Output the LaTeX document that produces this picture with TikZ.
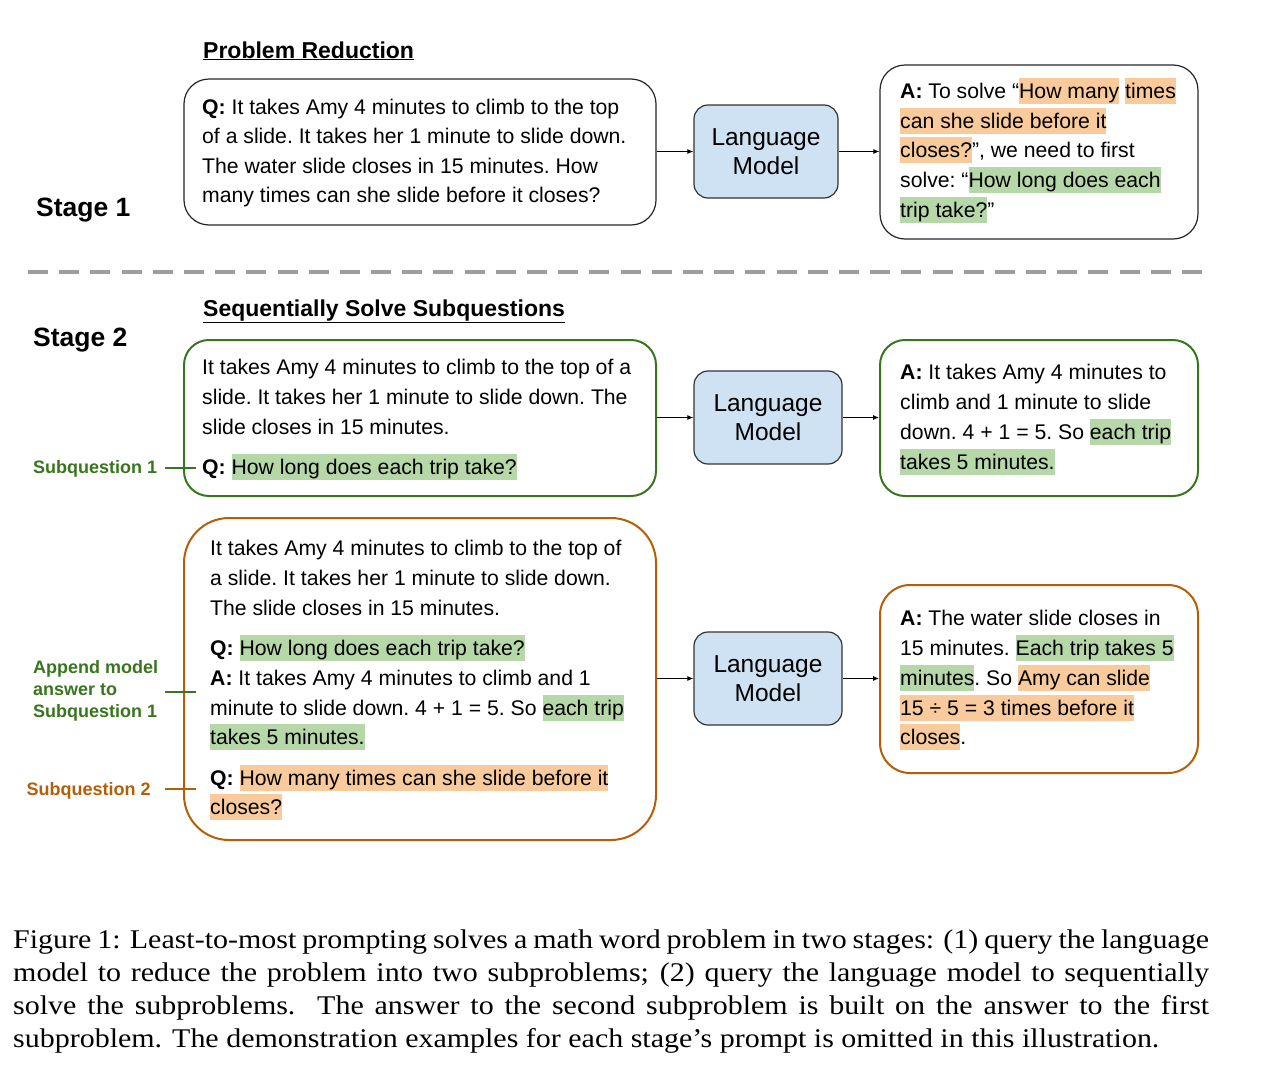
\documentclass[tikz,border=0pt]{standalone}
\usepackage{fontspec}
\setmainfont{Liberation Sans}
\newfontfamily\capfont[FakeStretch=1.11]{Liberation Serif}
\usetikzlibrary{arrows.meta}
\definecolor{hlg}{HTML}{B6D7A8}
\definecolor{hlo}{HTML}{F9CB9C}
\definecolor{grn}{HTML}{38761D}
\definecolor{org}{HTML}{B45F06}
\definecolor{lmblue}{HTML}{CFE2F3}
\definecolor{dashgray}{HTML}{9E9E9E}
\newcommand\hg[1]{{\setlength\fboxsep{0pt}\colorbox{hlg}{\rule[-5pt]{0pt}{26pt}#1}}}
\newcommand\ho[1]{{\setlength\fboxsep{0pt}\colorbox{hlo}{\rule[-5pt]{0pt}{26pt}#1}}}
\tikzset{
  txt/.style={anchor=base west, inner sep=0pt, font=\frenchspacing\fontsize{21.2}{26}\selectfont},
  head/.style={anchor=base west, inner sep=0pt, font=\bfseries\fontsize{23}{28}\selectfont},
  stagelbl/.style={anchor=base west, inner sep=0pt, font=\bfseries\fontsize{26.5}{30}\selectfont},
  sidelbl/.style={anchor=base west, inner sep=0pt, font=\bfseries\fontsize{18}{22}\selectfont},
  bbox/.style={draw=black!85, line width=1.2pt, rounded corners=25pt, inner sep=0pt},
  gbox/.style={draw=grn, line width=2pt, rounded corners=25pt, inner sep=0pt},
  obox/.style={draw=org, line width=2pt, rounded corners=30pt, inner sep=0pt},
  lm/.style={draw=black!80, fill=lmblue, rounded corners=14pt, line width=1.2pt, align=center,
    inner sep=0pt, font=\fontsize{24.5}{29.5}\selectfont},
  arr/.style={-{Latex[length=6pt,width=5pt]}, line width=1pt},
  tick/.style={line width=2pt},
}
\begin{document}
\begin{tikzpicture}[x=1pt,y=-1pt]
\useasboundingbox (0,0) rectangle (1262,1074);

% ---------------- Stage 1 ----------------
\node[stagelbl] (st1) at (36,216.5) {Stage 1};
\node[head] (h1) at (203,58) {\underline{Problem Reduction}};

\node[bbox, minimum width=472pt, minimum height=146pt] (b1) at (420,152) {};
\node[txt] (b1l1) at (202,114) {\textbf{Q:} It takes Amy 4 minutes to climb to the top};
\node[txt] (b1l2) at (202,143.5) {of a slide. It takes her 1 minute to slide down.};
\node[txt] (b1l3) at (202,173) {The water slide closes in 15 minutes. How};
\node[txt] (b1l4) at (202,202.5) {many times can she slide before it closes?};

\node[lm, minimum width=144pt, minimum height=93pt] (lm1) at (766,151.5) {Language\\Model};

\node[bbox, minimum width=318pt, minimum height=174pt] (a1) at (1039,152) {};
\node[txt] (a1l1) at (900,98.5) {\textbf{A:} To solve “\ho{How many} \ho{times}};
\node[txt] (a1l2) at (900,128.5) {\ho{can she slide before it}};
\node[txt] (a1l3) at (900,157.5) {\ho{closes?}”, we need to first};
\node[txt] (a1l4) at (900,187.5) {solve: “\hg{How long does each}};
\node[txt] (a1l5) at (900,217.5) {\hg{trip take?}”};

\draw[arr] (lm1.west -| b1.east) -- (lm1.west);
\draw[arr] (lm1.east) -- (lm1.east -| a1.west);

% dashed separator
\coordinate (d1) at (28,272);
\coordinate (d2) at (1202,272);
\draw[dashgray, line width=4pt, dash pattern=on 20pt off 11.19pt] (d1) -- (d2);

% ---------------- Stage 2 ----------------
\node[stagelbl] (st2) at (33,346.5) {Stage 2};
\node[head] (h2) at (203,316) {\underline{Sequentially Solve Subquestions}};

% Row 1
\node[gbox, minimum width=472pt, minimum height=156pt] (g1) at (420,418) {};
\node[txt] (g1l1) at (202,374.5) {It takes Amy 4 minutes to climb to the top of a};
\node[txt] (g1l2) at (202,404.5) {slide. It takes her 1 minute to slide down. The};
\node[txt] (g1l3) at (202,434.5) {slide closes in 15 minutes.};
\node[txt] (g1l4) at (202,474.5) {\textbf{Q:} \hg{How long does each trip take?}};

\node[lm, minimum width=148pt, minimum height=93pt] (lm2) at (768,417.5) {Language\\Model};

\node[gbox, minimum width=318pt, minimum height=156pt] (a2) at (1039,418) {};
\node[txt] (a2l1) at (900,379.5) {\textbf{A:} It takes Amy 4 minutes to};
\node[txt] (a2l2) at (900,409.5) {climb and 1 minute to slide};
\node[txt] (a2l3) at (900,439.5) {down. 4 + 1 = 5. So \hg{each trip}};
\node[txt] (a2l4) at (900,469.5) {\hg{takes 5 minutes.}};

\draw[arr] (lm2.west -| g1.east) -- (lm2.west);
\draw[arr] (lm2.east) -- (lm2.east -| a2.west);

\node[sidelbl, text=grn] (sq1) at (33,473) {Subquestion 1};
\coordinate (t1a) at (165,467.5);
\coordinate (t1b) at (196,467.5);
\draw[tick, grn] (t1a) -- (t1b);

% Row 2
\node[obox, rounded corners=45pt, minimum width=472pt, minimum height=322pt] (o1) at (420,679) {};
\node[txt] (o1l1) at (210,555.5) {It takes Amy 4 minutes to climb to the top of};
\node[txt] (o1l2) at (210,585.5) {a slide. It takes her 1 minute to slide down.};
\node[txt] (o1l3) at (210,615.5) {The slide closes in 15 minutes.};
\node[txt] (o1l4) at (210,655.5) {\textbf{Q:} \hg{How long does each trip take?}};
\node[txt] (o1l5) at (210,685.5) {\textbf{A:} It takes Amy 4 minutes to climb and 1};
\node[txt] (o1l6) at (210,715.5) {minute to slide down. 4 + 1 = 5. So \hg{each trip}};
\node[txt] (o1l7) at (210,744.5) {\hg{takes 5 minutes.}};
\node[txt] (o1l8) at (210,785.5) {\textbf{Q:} \ho{How many times can she slide before it}};
\node[txt] (o1l9) at (210,814.5) {\ho{closes?}};

\node[lm, minimum width=148pt, minimum height=93pt] (lm3) at (768,678.5) {Language\\Model};

\node[obox, minimum width=318pt, minimum height=188pt] (a3) at (1039,679) {};
\node[txt] (a3l1) at (900,625.5) {\textbf{A:} The water slide closes in};
\node[txt] (a3l2) at (900,655.5) {15 minutes. \hg{Each trip takes 5}};
\node[txt] (a3l3) at (900,685.5) {\hg{minutes}. So \ho{Amy can slide}};
\node[txt] (a3l4) at (900,715.5) {\ho{15 ÷ 5 = 3 times before it}};
\node[txt] (a3l5) at (900,744.5) {\ho{closes}.};

\draw[arr] (lm3.west -| o1.east) -- (lm3.west);
\draw[arr] (lm3.east) -- (lm3.east -| a3.west);

\node[sidelbl, text=grn] (ap1) at (33,673) {Append model};
\node[sidelbl, text=grn] (ap2) at (33,695.5) {answer to};
\node[sidelbl, text=grn] (ap3) at (33,717.5) {Subquestion 1};
\coordinate (t2a) at (165,691.5);
\coordinate (t2b) at (196,691.5);
\draw[tick, grn] (t2a) -- (t2b);

\node[sidelbl, text=org] (sq2) at (26.5,795) {Subquestion 2};
\coordinate (t3a) at (165,789);
\coordinate (t3b) at (196,789);
\draw[tick, org] (t3a) -- (t3b);

% ---------------- Caption ----------------
\node[anchor=north west, inner sep=0pt, text width=1196pt, align=justify,
  font=\capfont\fontsize{27}{33}\selectfont] (cap) at (13,930)
{Figure 1: Least-to-most prompting solves a math word problem in two stages: (1) query the language\linebreak
model to reduce the problem into two subproblems; (2) query the language model to sequentially\linebreak
solve the subproblems.\ \ The answer to the second subproblem is built on the answer to the first\linebreak
subproblem. The demonstration examples for each stage’s prompt is omitted in this illustration.};
\end{tikzpicture}
\end{document}
